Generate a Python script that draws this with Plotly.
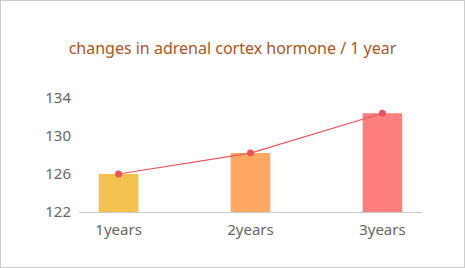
import plotly.graph_objects as go

categories = ["1years", "2years", "3years"]
values = [126.0, 128.2, 132.4]
bar_colors = ["#F2C14E", "#FFA862", "#FF7E7E"]
y_ticks = [122, 126, 130, 134]
title_text = "changes in adrenal cortex hormone / 1 year"

x_idx = list(range(len(categories)))

fig = go.Figure()
fig.add_trace(go.Bar(
    x=x_idx, y=[v - 122 for v in values], base=122,
    marker=dict(color=bar_colors, line=dict(width=0)),
    width=0.3, hoverinfo="skip", showlegend=False,
))
fig.add_trace(go.Scatter(
    x=x_idx, y=values, mode="lines+markers",
    line=dict(color="#E8545C", width=1.2),
    marker=dict(color="#E8545C", size=7),
    showlegend=False,
))

fig.update_layout(
    width=465, height=268,
    margin=dict(l=79, r=43, t=98, b=56),
    paper_bgcolor="white", plot_bgcolor="white",
    font=dict(family="Noto Sans, Open Sans, sans-serif", color="#666666", size=15),
    title=dict(text=title_text, x=0.5, xanchor="center", y=1 - 48 / 268, yanchor="middle",
               font=dict(size=16, color="#A8561E", family="Noto Sans, sans-serif")),
    xaxis=dict(
        range=[-0.3, 2.3], tickmode="array", tickvals=x_idx, ticktext=categories,
        showgrid=False, zeroline=False, showline=True, linecolor="#CCCCCC", linewidth=1,
        ticks="", tickfont=dict(size=15, color="#666666"), ticklabelstandoff=4,
    ),
    yaxis=dict(
        range=[122, 134], tickmode="array", tickvals=y_ticks,
        showgrid=False, zeroline=False, showline=False, ticks="",
        tickfont=dict(size=15, color="#666666"), ticklabelstandoff=7,
    ),
    shapes=[dict(type="rect", xref="paper", yref="paper", x0=-79/343, x1=1 + 43/343,
                 y0=-56/114, y1=1 + 98/114,
                 line=dict(color="#CCCCCC", width=2), fillcolor="rgba(0,0,0,0)")],
)

fig.write_html("out.html")
